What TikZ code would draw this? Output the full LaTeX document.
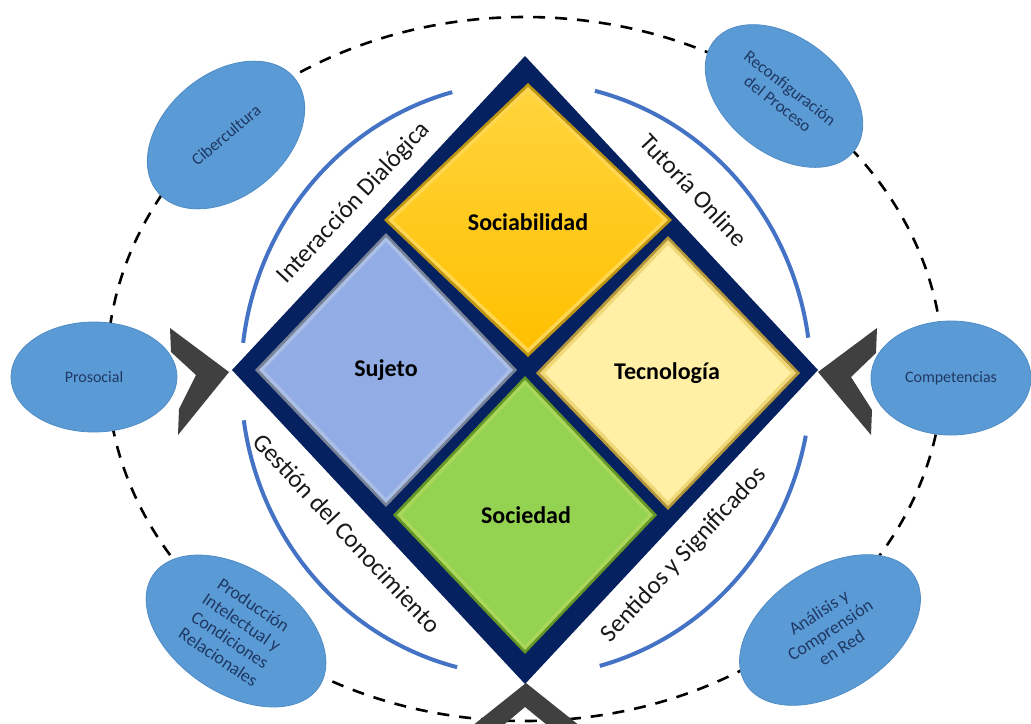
\documentclass[tikz,border=0pt]{standalone}
\usepackage{fontspec}
\setmainfont{Carlito}
\usetikzlibrary{shapes.geometric}
\definecolor{navy}{HTML}{06215F}
\definecolor{arcblue}{HTML}{4472C4}
\definecolor{ellfill}{HTML}{5B9BD5}
\definecolor{elldraw}{HTML}{4F8CC6}
\definecolor{elltext}{HTML}{1F3864}
\definecolor{chev}{HTML}{404040}
\newcommand\rkdia[5]{\path[#1] (#2,#3-#5) -- (#2+#4,#3) -- (#2,#3+#5) -- (#2-#4,#3) -- cycle;}
\tikzset{
  ring/.style={draw=black, line width=1.3pt, dash pattern=on 6pt off 5pt},
  arcline/.style={draw=arcblue, line width=2pt},
  bubble/.style={ellipse, fill=ellfill, draw=elldraw, line width=0.4pt, inner sep=0pt,
     text=elltext, align=center, font=\fontsize{8.5}{10}\selectfont},
  edgelabel/.style={text=black!90, font=\fontsize{12.5}{14}\selectfont, inner sep=0pt},
  corelabel/.style={text=black, font=\fontsize{12}{14}\selectfont\bfseries, inner sep=0pt},
  chevron/.style={fill=chev, draw=none}
}
\begin{document}
\begin{tikzpicture}[x=0.5pt,y=-0.5pt]
\useasboundingbox (0,0) rectangle (1031,723);
\clip (0,0) rectangle (1031,723);
\fill[white] (0,0) rectangle (1031,723);
% outer dashed ring
\draw[ring] (525,369) ellipse [x radius=418, y radius=352];
% blue arcs
\draw[arcline] plot[domain=105:173,samples=60] ({526+285*cos(\x)},{379-297*sin(\x)});
\draw[arcline] plot[domain=188:256,samples=60] ({526+285*cos(\x)},{379-297*sin(\x)});
\draw[arcline] plot[domain=285:349,samples=60] ({526+285*cos(\x)},{379-297*sin(\x)});
\draw[arcline] plot[domain=8:76,samples=60] ({526+285*cos(\x)},{379-297*sin(\x)});
% bubbles
\node[bubble, minimum width=89pt, minimum height=61pt, rotate=40] (ciber) at (226,135) {Cibercultura};
\node[bubble, minimum width=89pt, minimum height=58pt, rotate=-38] (reconf) at (784,96) {Reconfiguración\\del Proceso};
\node[bubble, minimum width=83pt, minimum height=55pt, font=\fontsize{8}{10}\selectfont] (prosoc) at (94,377) {Prosocial};
\node[bubble, minimum width=80pt, minimum height=57pt, font=\fontsize{8}{10}\selectfont] (compet) at (951,378) {Competencias};
\node[bubble, minimum width=100pt, minimum height=62pt, rotate=-34, font=\fontsize{9}{10.5}\selectfont] (produc) at (236,631) {Producción\\Intelectual y\\Condiciones\\Relacionales};
\node[bubble, minimum width=100pt, minimum height=62pt, rotate=33, font=\fontsize{9}{10.5}\selectfont] (analis) at (830,630) {Análisis y\\Comprensión\\en Red};
% chevrons
\path[chevron] (170,328) -- (229,372) -- (178,435) -- (179,409) -- (196,375) -- (171,352) -- cycle;
\path[chevron] (877,328) -- (818,372) -- (871,435) -- (872,410) -- (851,377) -- (876,353) -- cycle;
\path[chevron] (526,683) -- (590,734) -- (590,760) -- (525,707) -- (462,760) -- (462,734) -- cycle;
% navy diamond
\rkdia{fill=navy}{525}{370}{293}{314}
% Sociabilidad
\rkdia{fill={rgb,255:red,190;green,150;blue,20}}{528}{220}{144}{137}
\rkdia{fill={rgb,255:red,255;green,214;blue,80}}{528}{220}{140}{133}
\rkdia{top color={rgb,255:red,255;green,212;blue,60}, bottom color={rgb,255:red,255;green,192;blue,0}}{528}{220}{135}{128}
% Sujeto
\rkdia{fill={rgb,255:red,120;green,130;blue,150}}{386}{370}{131}{137}
\rkdia{fill={rgb,255:red,170;green,190;blue,230}}{386}{370}{127}{133}
\rkdia{fill={rgb,255:red,146;green,173;blue,230}}{386}{370}{122}{128}
% Tecnologia
\rkdia{fill={rgb,255:red,180;green,150;blue,60}}{668}{373}{132}{137}
\rkdia{fill={rgb,255:red,240;green,215;blue,120}}{668}{373}{128}{133}
\rkdia{fill={rgb,255:red,255;green,240;blue,166}}{668}{373}{123}{128}
% Sociedad
\rkdia{fill={rgb,255:red,100;green,150;blue,40}}{525}{515}{132}{139}
\rkdia{fill={rgb,255:red,170;green,215;blue,90}}{525}{515}{128}{135}
\rkdia{fill={rgb,255:red,148;green,210;blue,82}}{525}{515}{123}{130}
% core labels
\node[corelabel] (socia) at (528,222) {Sociabilidad};
\node[corelabel] (sujeto) at (386,370) {Sujeto};
\node[corelabel] (tecno) at (667,373) {Tecnología};
\node[corelabel] (socie) at (526,515) {Sociedad};
% edge labels
\node[edgelabel, rotate=47] (inter) at (354,203) {Interacción Dialógica};
\node[edgelabel, rotate=-47] (tutor) at (694,190) {Tutoría Online};
\node[edgelabel, rotate=-47] (gestion) at (347,533) {Gestión del Conocimiento};
\node[edgelabel, rotate=47] (sentid) at (684,555) {Sentidos y Significados};
\end{tikzpicture}
\end{document}
